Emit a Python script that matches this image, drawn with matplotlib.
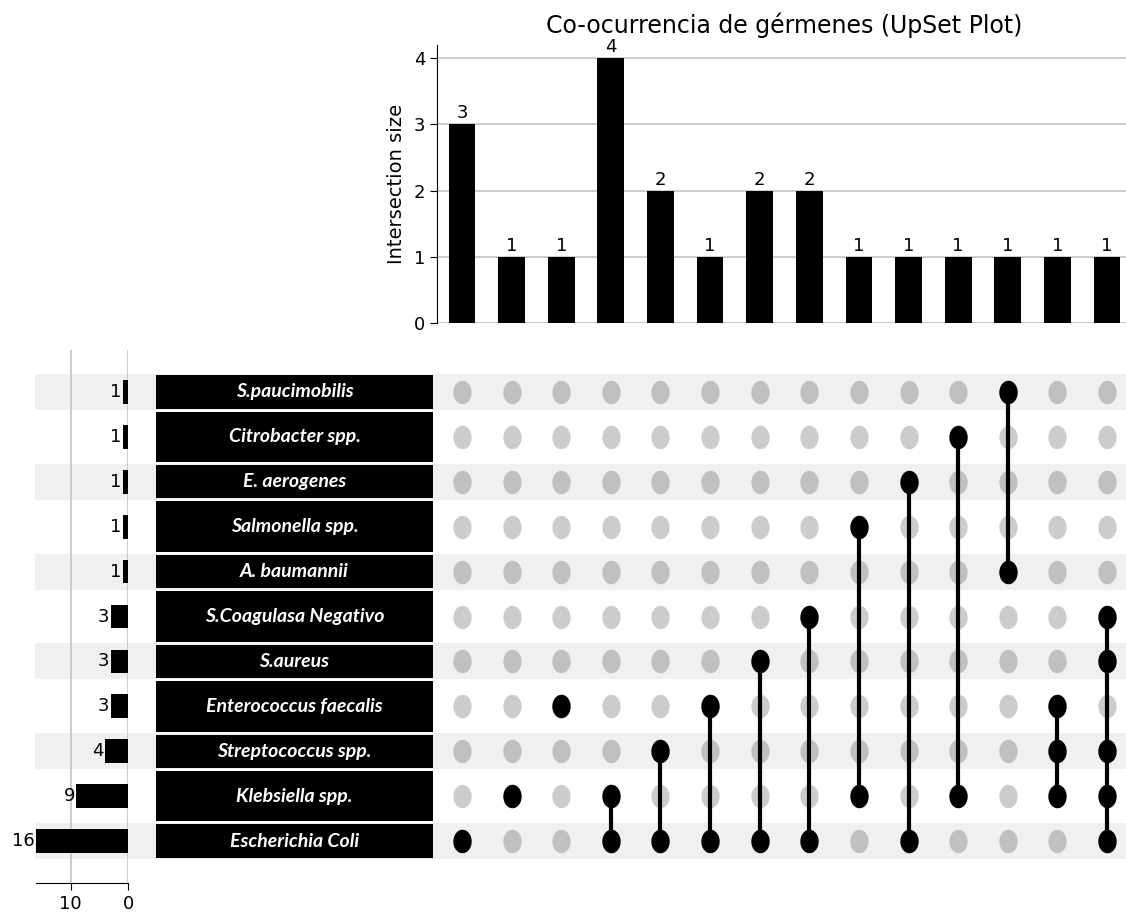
import numpy as np
import matplotlib
matplotlib.use('Agg')
import matplotlib.pyplot as plt
import matplotlib.transforms as mtransforms
from matplotlib.patches import Rectangle
from matplotlib.path import Path

# sets, bottom row first
set_names = ['Escherichia Coli', 'Klebsiella spp.', 'Streptococcus spp.',
             'Enterococcus faecalis', 'S.aureus', 'S.Coagulasa Negativo',
             'A. baumannii', 'Salmonella spp.', 'E. aerogenes',
             'Citrobacter spp.', 'S.paucimobilis']
set_sizes = [16, 9, 4, 3, 3, 3, 1, 1, 1, 1, 1]

# intersections, left to right
intersections = [
    ['Escherichia Coli'],
    ['Klebsiella spp.'],
    ['Enterococcus faecalis'],
    ['Escherichia Coli', 'Klebsiella spp.'],
    ['Escherichia Coli', 'Streptococcus spp.'],
    ['Escherichia Coli', 'Enterococcus faecalis'],
    ['Escherichia Coli', 'S.aureus'],
    ['Escherichia Coli', 'S.Coagulasa Negativo'],
    ['Klebsiella spp.', 'Salmonella spp.'],
    ['Escherichia Coli', 'E. aerogenes'],
    ['Klebsiella spp.', 'Citrobacter spp.'],
    ['A. baumannii', 'S.paucimobilis'],
    ['Klebsiella spp.', 'Streptococcus spp.', 'Enterococcus faecalis'],
    ['Escherichia Coli', 'Klebsiella spp.', 'Streptococcus spp.',
     'S.aureus', 'S.Coagulasa Negativo'],
]
inter_sizes = [3, 1, 1, 4, 2, 1, 2, 2, 1, 1, 1, 1, 1, 1]

W, H = 1126, 919
n_sets = len(set_names)
n_cols = len(intersections)


def frac(x0, x1, ytop, ybot):
    return [x0 / W, 1 - ybot / H, (x1 - x0) / W, (ybot - ytop) / H]


fig = plt.figure(figsize=(W / 100, H / 100), dpi=100)

ax_mat = fig.add_axes(frac(437.2, 1131.8, 350, 883))
ax_tot = fig.add_axes(frac(36, 128.3, 350, 883))
ax_lab = fig.add_axes(frac(156, 433, 350, 883))
ax_bar = fig.add_axes(frac(437.2, 1131.8, 45, 323))

ylim = (-0.935, n_sets - 1 + 0.935)
for ax in (ax_mat, ax_tot, ax_lab):
    ax.set_ylim(*ylim)
    ax.set_facecolor('none')

# row shading across the whole width
trans = mtransforms.blended_transform_factory(fig.transFigure, ax_mat.transData)
for i in range(0, n_sets, 2):
    ax_mat.add_patch(Rectangle((35 / W, i - 0.4), 1 - 35 / W, 0.8, transform=trans,
                               facecolor='#f0f0f0', edgecolor='none',
                               zorder=0, clip_on=False))

# matrix of dots (slightly tall ellipses like the reference)
t = np.linspace(0, 2 * np.pi, 80)
ell = Path(np.column_stack([0.78 * np.cos(t), np.sin(t)]), closed=True)
dot_s = 285

xx, yy = np.meshgrid(np.arange(n_cols), np.arange(n_sets))
ax_mat.scatter(xx.ravel(), yy.ravel(), s=dot_s, marker=ell, color='black',
               alpha=0.2, linewidths=0, zorder=2)
for j, members in enumerate(intersections):
    rows = [set_names.index(m) for m in members]
    if len(rows) > 1:
        ax_mat.vlines(j, min(rows), max(rows), color='black', lw=3, zorder=3)
    ax_mat.scatter([j] * len(rows), rows, s=dot_s, marker=ell, color='black',
                   linewidths=0, zorder=4)
ax_mat.set_xlim(-0.5, n_cols - 0.5)
ax_mat.axis('off')

# set names in black boxes
for i, name in enumerate(set_names):
    h = 0.37 if i % 2 == 0 else 0.565
    ax_lab.add_patch(Rectangle((0, i - h), 1, 2 * h, facecolor='black',
                               edgecolor='none'))
    ax_lab.text(0.5, i, name, color='white', ha='center', va='center',
                fontsize=14, fontweight='bold', fontstyle='italic',
                family=['Lato', 'DejaVu Sans'])
ax_lab.set_xlim(0, 1)
ax_lab.axis('off')

# set size totals
ax_tot.barh(np.arange(n_sets), set_sizes, height=0.53, color='black', zorder=3)
for i, v in enumerate(set_sizes):
    ax_tot.annotate(str(v), (v, i), xytext=(-1, 0), textcoords='offset points',
                    ha='right', va='center', fontsize=13)
ax_tot.set_xlim(16, 0)
ax_tot.set_xticks([10, 0])
ax_tot.set_yticks([])
for s in ('top', 'left', 'right'):
    ax_tot.spines[s].set_visible(False)
ax_tot.grid(axis='x', color='#c8c8c8', lw=1.3)
ax_tot.set_axisbelow(True)
ax_tot.tick_params(axis='x', labelsize=13, length=5)

# intersection sizes
ax_bar.bar(np.arange(n_cols), inter_sizes, width=0.54, color='black', zorder=3)
for j, v in enumerate(inter_sizes):
    ax_bar.annotate(str(v), (j, v), xytext=(0, 1.5), textcoords='offset points',
                    ha='center', va='bottom', fontsize=13)
ax_bar.set_xlim(-0.5, n_cols - 0.5)
ax_bar.set_ylim(0, 4.2)
ax_bar.set_yticks(range(0, 5))
ax_bar.set_xticks([])
for s in ('top', 'right', 'bottom'):
    ax_bar.spines[s].set_visible(False)
ax_bar.grid(axis='y', color='#c8c8c8', lw=1.3)
ax_bar.set_axisbelow(True)
ax_bar.tick_params(axis='y', labelsize=13, length=5)
ax_bar.set_ylabel('Intersection size', fontsize=14, labelpad=6)
ax_bar.set_title('Co-ocurrencia de gérmenes (UpSet Plot)', fontsize=17, pad=9)

fig.savefig('out.png', dpi=100)
